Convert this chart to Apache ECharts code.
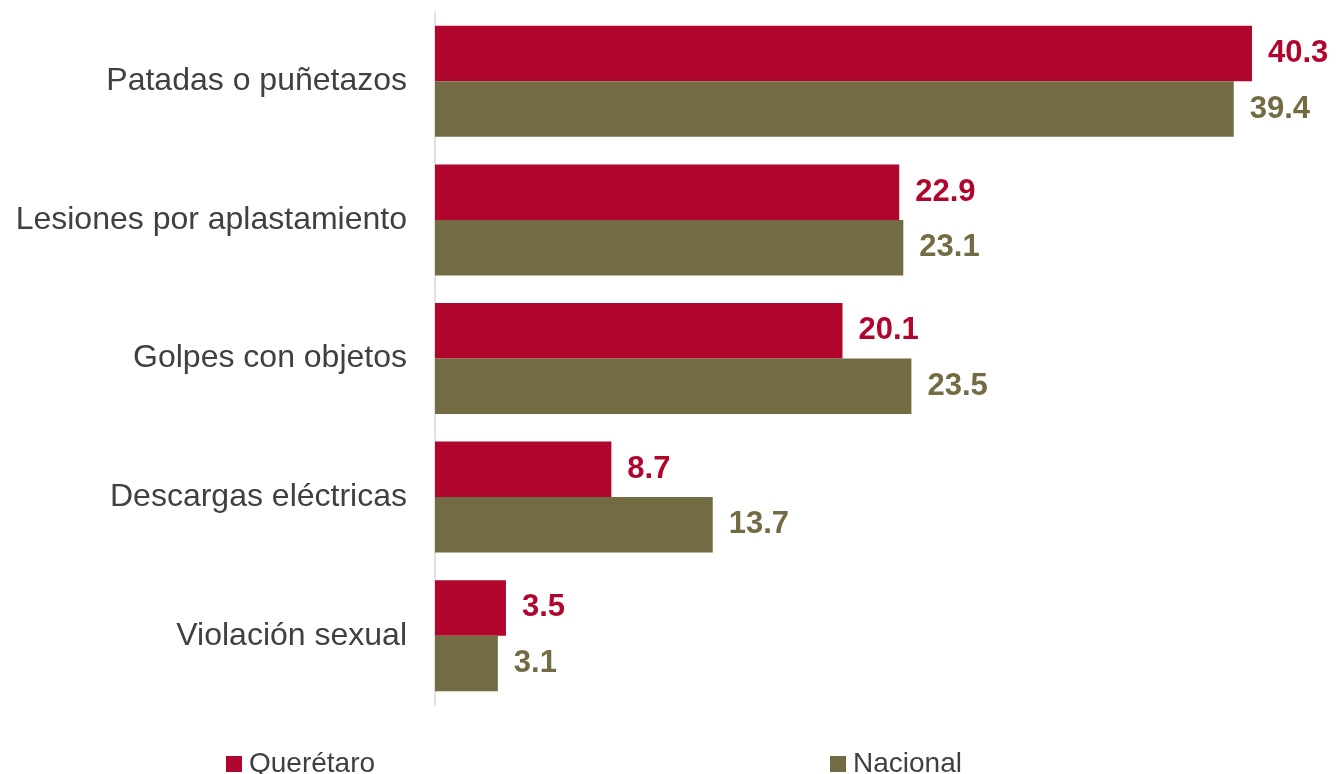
<!DOCTYPE html>
<html>
<head>
<meta charset="utf-8">
<script src="https://cdn.jsdelivr.net/npm/echarts@6/dist/echarts.min.js"></script>
<style>html,body{margin:0;padding:0;background:#fff}#c{width:1337px;height:774px}</style>
</head>
<body>
<div id="c"></div>
<script>
const categories = ["Patadas o puñetazos", "Lesiones por aplastamiento", "Golpes con objetos", "Descargas eléctricas", "Violación sexual"];
const queretaro = [40.3, 22.9, 20.1, 8.7, 3.5];
const nacional = [39.4, 23.1, 23.5, 13.7, 3.1];
const seriesNames = ["Querétaro", "Nacional"];
const colors = ["#B0052C", "#736B43"];

const chart = echarts.init(document.getElementById('c'));
const font = "Liberation Sans, Arial, sans-serif";
function mkSeries(name, data, color) {
  return {
    name: name, type: 'bar', data: data, barWidth: 55.5, barGap: '0%',
    itemStyle: { color: color },
    label: { show: true, position: 'right', distance: 16, color: color,
      fontFamily: font, fontSize: 31, fontWeight: 'bold',
      formatter: p => p.value.toFixed(1) }
  };
}
const legendCommon = { top: 745, itemWidth: 16, itemHeight: 16, icon: 'rect',
  textStyle: { color: '#404040', fontFamily: font, fontSize: 28, padding: [0, 0, 0, 2] } };
chart.setOption({
  animation: false,
  grid: { left: 435, right: 10, top: 12, bottom: 69 },
  xAxis: { type: 'value', min: 0, max: 44, show: false },
  yAxis: { type: 'category', data: categories, inverse: true,
    axisLine: { show: true, lineStyle: { color: '#d9d9d9', width: 1.5 } },
    axisTick: { show: false },
    axisLabel: { color: '#404040', fontFamily: font, fontSize: 32, margin: 28 } },
  legend: [
    Object.assign({ data: [seriesNames[0]], left: 221 }, legendCommon),
    Object.assign({ data: [seriesNames[1]], left: 825 }, legendCommon)
  ],
  series: [mkSeries(seriesNames[0], queretaro, colors[0]), mkSeries(seriesNames[1], nacional, colors[1])]
});
</script>
</body>
</html>
